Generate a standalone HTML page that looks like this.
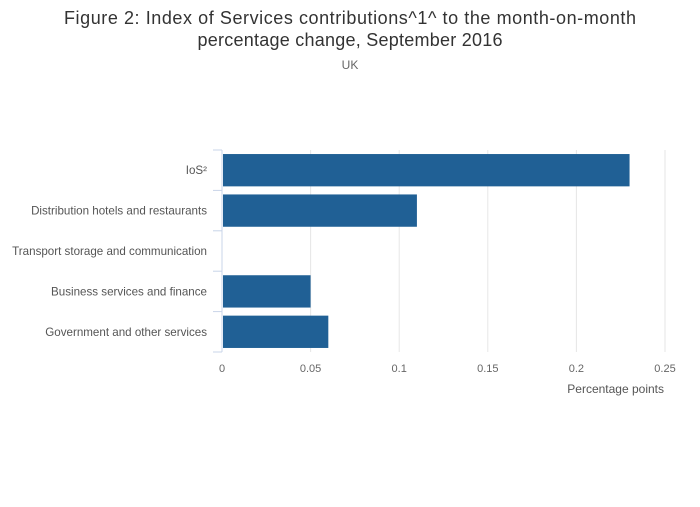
<!DOCTYPE html>
<html><head><meta charset="utf-8"><style>
body{margin:0;background:#fff;font-family:"Liberation Sans",sans-serif;}
</style></head><body>
<svg width="700" height="502" xmlns="http://www.w3.org/2000/svg" style="font-family:'Liberation Sans',sans-serif">
<rect width="700" height="502" fill="#fff"/>
<text x="350" y="24" text-anchor="middle" font-size="18" fill="#333" textLength="572" lengthAdjust="spacing">Figure 2: Index of Services contributions^1^ to the month-on-month</text>
<text x="350" y="46" text-anchor="middle" font-size="18" fill="#333" textLength="305" lengthAdjust="spacing">percentage change, September 2016</text>
<text x="350" y="69" text-anchor="middle" font-size="12" fill="#666">UK</text>
<g id="grid"></g>
<g id="bars"></g>
<g id="axis"></g>
<text x="664" y="393" text-anchor="end" font-size="12" fill="#555">Percentage points</text>
</svg>
<script>
const categories=["IoS²","Distribution hotels and restaurants","Transport storage and communication","Business services and finance","Government and other services"];
const values=[0.23,0.11,0,0.05,0.06];
const ticks=[0,0.05,0.1,0.15,0.2,0.25];
const tickLabels=["0","0.05","0.1","0.15","0.2","0.25"];
const NS="http://www.w3.org/2000/svg";
const x0=222,x1=665,yTop=150,yBot=352,xMax=0.25;
const xs=v=>x0+(v/xMax)*(x1-x0);
const band=(yBot-yTop)/categories.length;
function mk(t,a,p){const e=document.createElementNS(NS,t);for(const k in a)e.setAttribute(k,a[k]);p.appendChild(e);return e;}
const g=document.getElementById('grid'),b=document.getElementById('bars'),ax=document.getElementById('axis');
ticks.forEach((t,i)=>{
 if(t>0){const l=mk('line',{x1:xs(t),x2:xs(t),y1:yTop,y2:yBot,stroke:'#e6e6e6','stroke-width':1},g);
 
 }
 const tx=mk('text',{x:xs(t),y:372,'text-anchor':'middle','font-size':11,fill:'#666'},ax);tx.textContent=tickLabels[i];
 
 
});
categories.forEach((c,i)=>{
 const yc=yTop+band*(i+0.5);
 if(values[i]>0){const r=mk('rect',{x:x0+1,y:yc-band*0.4,width:xs(values[i])-x0-1,height:band*0.8,fill:'#206095'},b);
 
 }
 const tx=mk('text',{x:207,y:yc+4,'text-anchor':'end','font-size':11.6,fill:'#555'},ax);tx.textContent=c;
 
 
});
for(let i=0;i<=categories.length;i++){const y=yTop+band*i;const l=mk('line',{x1:213,x2:222,y1:y,y2:y,stroke:'#c8d4e8','stroke-width':1},ax);
 
 }
const al=mk('line',{x1:222,x2:222,y1:yTop,y2:yBot,stroke:'#c8d4e8','stroke-width':1},ax);


</script>
</body></html>
